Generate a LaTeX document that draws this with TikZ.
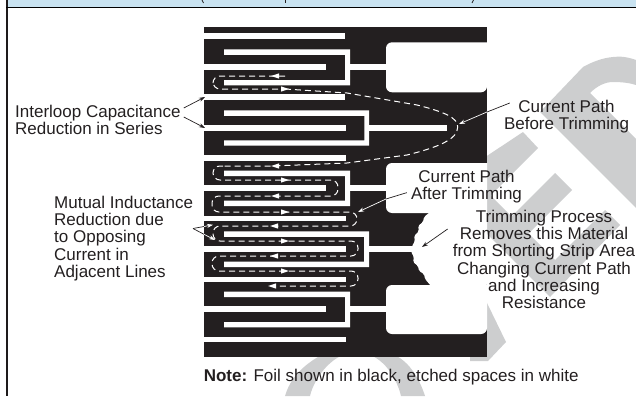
\documentclass[tikz,border=0pt]{standalone}
\usepackage{fontspec}
\setmainfont{Liberation Sans}
\usetikzlibrary{arrows.meta,calc}
\definecolor{foil}{HTML}{231F20}
\definecolor{band}{HTML}{C9E3F1}
\definecolor{wm}{HTML}{CDCECF}
\tikzset{
  lbl/.style={inner sep=0pt,text=foil,font=\fontsize{17}{17.3}\selectfont},
  trace/.style={fill=white,draw=none},
  wmark/.style={fill=wm,draw=none},
  curpath/.style={draw=white,line width=1pt,dash pattern=on 6pt off 4pt,rounded corners=7pt},
  leadblack/.style={draw=foil,line width=.7pt,-{Stealth[length=6pt,width=4pt]}},
  leadplain/.style={draw=foil,line width=.7pt},
  leadwhite/.style={draw=white,line width=.7pt,-{Stealth[length=6pt,width=4pt]}},
  tipr/.style={fill=white,draw=none},
}
\newcommand{\TrBar}[4]{\fill[trace] (#1,#3) rectangle (#2,#4);}
\newcommand{\arrR}[2]{\fill[tipr] (#1-6,#2-2.6) -- (#1+2,#2) -- (#1-6,#2+2.6) -- cycle;}
\newcommand{\arrL}[2]{\fill[tipr] (#1+6,#2-2.6) -- (#1-2,#2) -- (#1+6,#2+2.6) -- cycle;}
\newcommand{\CShape}[4]{% x-right-outer, top-y, bottom-y, vertical-left
  \fill[trace] (224,#2) -- (#1,#2) -- (#1,#3) -- (224,#3) -- (224,#3-5.3) -- (#4,#3-5.3) -- (#4,#2+5.5) -- (224,#2+5.5) -- cycle;}
\begin{document}
\begin{tikzpicture}[x=1pt,y=-1pt]
\useasboundingbox (0,0) rectangle (636,396);
% watermark
\path[wmark] (636,60) .. controls (628,57) and (620,56) .. (613,57) .. controls (602,58) and (592,62) .. (583,67) -- (540,112) -- (636,208) -- (636,139) -- (590,93) .. controls (597,86) and (605,82) .. (613,82) .. controls (622,82) and (630,83) .. (636,85) -- cycle;
\path[wmark] (523,132) -- (538,148) -- (490.5,195.5) -- (511.5,216.5) -- (555,173) -- (572,190) -- (528.5,233.5) -- (555,260) -- (605,210) -- (620,225) -- (550,297) -- (440,187) -- cycle;
\path[wmark] (470,268) -- (487,303) -- (506,342) -- (488,361) -- (470,361) -- cycle;
\path[wmark] (285,396) .. controls (292,372) and (312,360) .. (325,353) -- (388,353) .. controls (408,357) and (420,380) .. (425,396) -- (401,396) .. controls (396,375) and (380,352) .. (356,352) .. controls (335,352) and (315,375) .. (310,396) -- cycle;
\fill[white] (200,27) rectangle (487,356.5);
% header band and frame
\fill[band] (8,0) rectangle (636,7);
\fill[foil!85!black] (6,0) rectangle (8,396);
\fill[black] (6,6.7) rectangle (636,8.3);
\draw[foil,line width=.8pt] (202,0) -- (203.5,3);
\draw[foil,line width=1pt] (285,0) -- (285,3);
\draw[foil,line width=.8pt] (473.5,0) -- (472,3);
% foil
\fill[foil] (204,27) rectangle (487,356.5);
% pads
\fill[trace,rounded corners=6pt] (487,42.3) -- (386,42.3) -- (386,92.3) -- (487,92.3) [sharp corners] -- cycle;
\fill[trace,rounded corners=6pt] (487,163) -- (386,163) -- (386,213) -- (430,213) [sharp corners] -- (487,213) -- cycle;
\fill[trace,rounded corners=6pt] (487,285) -- (430,285) -- (386,285) -- (386,334) -- (487,334) [sharp corners] -- cycle;
\fill[trace,rounded corners=1.6pt] (487,212) -- (430,212) -- (424,217) -- (423,222) -- (418,226) -- (419,231) -- (414,236) -- (415,241) -- (412,246) -- (411,252) -- (414,257) -- (413,262) -- (418,266) -- (419,271) -- (424,274) -- (425,279) -- (431,286) -- (487,286) -- cycle;
% etched traces
\TrBar{204}{345}{32.7}{38.7}
\CShape{350}{49.3}{85.3}{345}
\TrBar{204}{325.7}{64.3}{70.3}
\TrBar{349}{387}{64.3}{70.3}
\TrBar{204}{345}{94.3}{100.3}
\CShape{369}{110.3}{145.7}{364.3}
\TrBar{204}{345.7}{125}{130.7}
\TrBar{368}{446.7}{125}{130.7}
\TrBar{204}{345.7}{155.3}{160.7}
\CShape{350}{170.7}{206}{345}
\TrBar{204}{325.7}{185.3}{191}
\TrBar{349}{387}{185.3}{191}
\TrBar{204}{345.7}{215.7}{221.3}
\CShape{369}{231.3}{267}{364}
\TrBar{204}{345.7}{246.3}{252}
\TrBar{368}{413}{246.3}{252}
\TrBar{204}{345.7}{276.7}{282}
\CShape{350}{291.7}{327.3}{345}
\TrBar{204}{325.7}{306.3}{312.3}
\TrBar{349}{387}{306.3}{312.3}
\TrBar{204}{345.7}{337}{342.3}
% current paths
\draw[curpath] (285,76) -- (213,76) -- (213,89) -- (285,89);
\draw[curpath,rounded corners=0pt] (285,89) -- (347,93) -- (417,105) .. controls (445,112) and (458,118) .. (457.7,127) .. controls (458,140) and (435,148) .. (407,155) -- (347,163) -- (273,166) -- (223,166);
\draw[curpath] (223,166) -- (213,166) -- (213,180) -- (338,180) -- (338,196) -- (212,196) -- (212,212) -- (357,212) -- (357,226) -- (213,226) -- (213,241) -- (358,241) -- (358,256) -- (212,256) -- (212,271) -- (358,271) -- (358,286) -- (272,286);
\arrL{273}{76}\arrR{287}{89}\arrL{273}{166}\arrR{287}{180}\arrL{273}{196}\arrR{287}{212}
\arrL{272}{226}\arrR{287}{241}\arrL{272}{256}\arrR{287}{271}\arrL{270}{286}
% labels
\node[lbl,anchor=north west,align=left] (intl) at (15,103) {\rule{0pt}{14pt}Interloop Capacitance\\Reduction in Series};
\node[lbl,anchor=north west,align=left] (mut) at (54,194) {\rule{0pt}{14pt}Mutual Inductance\\Reduction due\\to Opposing\\Current in\\Adjacent Lines};
\node[lbl,anchor=north,align=center] (before) at (566.5,98) {\rule{0pt}{14pt}Current Path\\Before Trimming};
\node[lbl,anchor=north,align=center] (after) at (466.5,168) {\rule{0pt}{14pt}Current Path\\After Trimming};
\node[lbl,anchor=north,align=center] (trim) at (544,208) {\rule{0pt}{14pt}Trimming Process\\Removes this Material\\from Shorting Strip Area\\Changing Current Path\\and Increasing\\Resistance};
\node[lbl,anchor=base west] (note) at (203.6,381) {\textbf{Note:} Foil shown in black, etched spaces in white};
% leaders
\coordinate (i1) at (205,97); \coordinate (i2) at (205,128);
\draw[leadblack] ($(intl.north east)+(3,5)$) -- (i1);
\draw[leadblack] ($(intl.north east)+(3,14)$) -- (i2);
\coordinate (mjoin) at (193,228.5);
\coordinate (m1e) at (204,226.5); \coordinate (m1t) at (213,224.8);
\coordinate (m2e) at (204,234.3); \coordinate (m2t) at (215,240);
\draw[leadplain] (mjoin) -- (m1e); \draw[leadplain] (mjoin) -- (m2e);
\draw[leadwhite] (m1e) -- (m1t); \draw[leadwhite] (m2e) -- (m2t);
\coordinate (be) at (487,112); \coordinate (bt) at (459,124);
\draw[leadplain] ($(before.north west)+(6,5)$) -- (be);
\draw[leadwhite] (be) -- (bt);
\coordinate (ae) at (386,199); \coordinate (at) at (358,212);
\draw[leadplain] ($(after.west)+(-4,7)$) -- (ae);
\draw[leadwhite] (ae) -- (at);
\coordinate (tt) at (422,247);
\draw[leadblack] ($(trim.north west)+(-5,21)$) -- (tt);
\end{tikzpicture}
\end{document}
